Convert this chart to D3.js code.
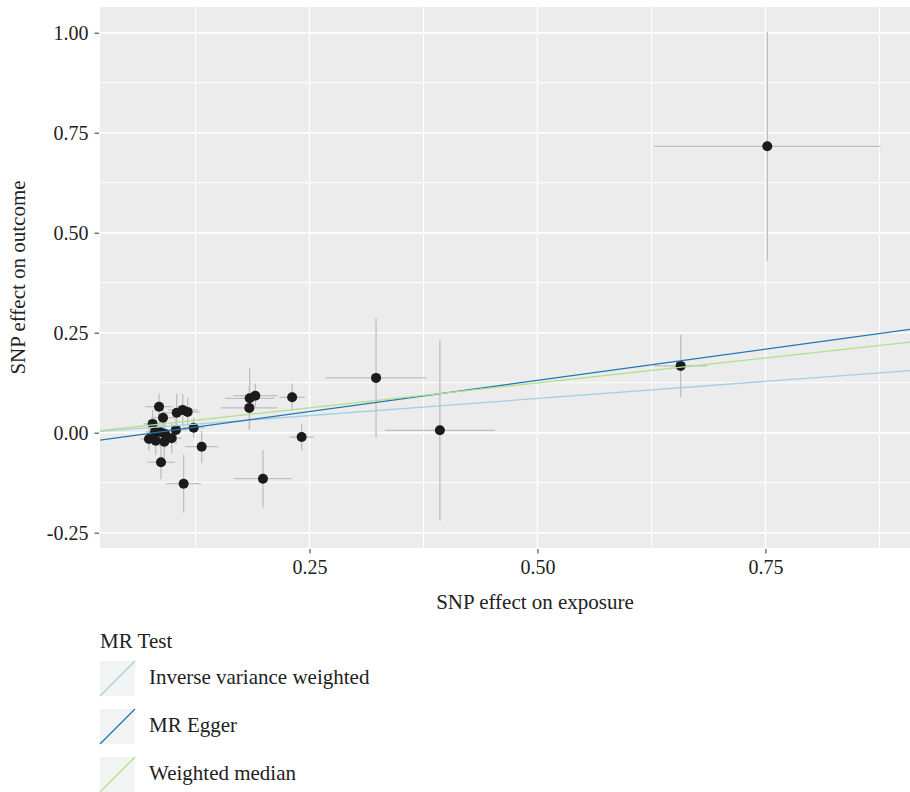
<!DOCTYPE html>
<html>
<head>
<meta charset="utf-8">
<script src="https://cdn.jsdelivr.net/npm/d3@7"></script>
<style>
  body { margin: 0; background: #fff; }
  svg { display: block; font-family: "Liberation Serif", "DejaVu Serif", serif; }
</style>
</head>
<body>
<div id="chart"></div>
<script>
// SNP effects
var betaExposure = [0.752, 0.657, 0.323, 0.393, 0.2414, 0.231, 0.1844, 0.1906, 0.184, 0.199,
                    0.1318, 0.112, 0.0872, 0.123, 0.1164, 0.111, 0.1044, 0.1036, 0.0989, 0.0908,
                    0.0814, 0.074, 0.078, 0.0894, 0.085, 0.086, 0.0916, 0.0806];
var betaOutcome  = [0.716, 0.167, 0.137, 0.006, -0.011, 0.0885, 0.086, 0.0925, 0.062, -0.115,
                    -0.035, -0.1275, -0.074, 0.0125, 0.052, 0.057, 0.05, 0.007, -0.014, -0.0225,
                    -0.02, -0.016, 0.022, 0.0375, 0.065, 0.002, -0.003, 0.002];
var seExposure   = [0.1245, 0.029, 0.055, 0.060, 0.013, 0.014, 0.027, 0.024, 0.031, 0.032,
                    0.018, 0.019, 0.015, 0.012, 0.013, 0.016, 0.015, 0.013, 0.011, 0.012,
                    0.010, 0.009, 0.010, 0.013, 0.015, 0.011, 0.013, 0.010];
var seOutcome    = [0.286, 0.078, 0.149, 0.226, 0.033, 0.034, 0.075, 0.03, 0.055, 0.072,
                    0.04, 0.0725, 0.0425, 0.025, 0.035, 0.04, 0.0475, 0.035, 0.0375, 0.04,
                    0.035, 0.03, 0.035, 0.0375, 0.0325, 0.0375, 0.035, 0.03];

// MR estimates (abline intercept / slope)
var methods    = ["Inverse variance weighted", "MR Egger", "Weighted median"];
var intercepts = [0, -0.025, 0];
var slopes     = [0.171, 0.312, 0.249];
var colors     = ["#a6cee3", "#1f78b4", "#b2df8a"];

var xTicks = [0.25, 0.50, 0.75];
var yTicks = [-0.25, 0.00, 0.25, 0.50, 0.75, 1.00];
var xMinor = [0.125, 0.375, 0.625, 0.875];
var yMinor = [-0.125, 0.125, 0.375, 0.625, 0.875];

var width = 910, height = 792;
var panel = {left: 100, top: 7, right: 970, bottom: 548};

var svg = d3.select("#chart").append("svg")
    .attr("width", width)
    .attr("height", height);

svg.append("rect").attr("width", width).attr("height", height).attr("fill", "#fff");

var x = d3.scaleLinear().domain([0.0203, 0.9743]).range([panel.left, panel.right]);
var y = d3.scaleLinear().domain([-0.2883, 1.0643]).range([panel.bottom, panel.top]);

svg.append("defs").append("clipPath").attr("id", "clip")
  .append("rect")
    .attr("x", panel.left).attr("y", panel.top)
    .attr("width", panel.right - panel.left)
    .attr("height", panel.bottom - panel.top);

// panel background
svg.append("rect")
    .attr("x", panel.left).attr("y", panel.top)
    .attr("width", panel.right - panel.left)
    .attr("height", panel.bottom - panel.top)
    .attr("fill", "#ebeceb");

var grid = svg.append("g").attr("class", "grid");
grid.selectAll(".vminor").data(xMinor).enter().append("line")
    .attr("x1", function(d) { return x(d); }).attr("x2", function(d) { return x(d); })
    .attr("y1", panel.top).attr("y2", panel.bottom)
    .attr("stroke", "#fff").attr("stroke-width", 1);
grid.selectAll(".hminor").data(yMinor).enter().append("line")
    .attr("y1", function(d) { return y(d); }).attr("y2", function(d) { return y(d); })
    .attr("x1", panel.left).attr("x2", panel.right)
    .attr("stroke", "#fff").attr("stroke-width", 1);
grid.selectAll(".vmajor").data(xTicks).enter().append("line")
    .attr("x1", function(d) { return x(d); }).attr("x2", function(d) { return x(d); })
    .attr("y1", panel.top).attr("y2", panel.bottom)
    .attr("stroke", "#fff").attr("stroke-width", 1.4);
grid.selectAll(".hmajor").data(yTicks).enter().append("line")
    .attr("y1", function(d) { return y(d); }).attr("y2", function(d) { return y(d); })
    .attr("x1", panel.left).attr("x2", panel.right)
    .attr("stroke", "#fff").attr("stroke-width", 1.4);

var idx = d3.range(betaExposure.length);
var plot = svg.append("g").attr("clip-path", "url(#clip)");

// error bars
plot.selectAll(".ebv").data(idx).enter().append("line")
    .attr("x1", function(i) { return x(betaExposure[i]); })
    .attr("x2", function(i) { return x(betaExposure[i]); })
    .attr("y1", function(i) { return y(betaOutcome[i] - seOutcome[i]); })
    .attr("y2", function(i) { return y(betaOutcome[i] + seOutcome[i]); })
    .attr("stroke", "#bebebe").attr("stroke-width", 1.3);
plot.selectAll(".ebh").data(idx).enter().append("line")
    .attr("y1", function(i) { return y(betaOutcome[i]); })
    .attr("y2", function(i) { return y(betaOutcome[i]); })
    .attr("x1", function(i) { return x(betaExposure[i] - seExposure[i]); })
    .attr("x2", function(i) { return x(betaExposure[i] + seExposure[i]); })
    .attr("stroke", "#bebebe").attr("stroke-width", 1.3);

// points
plot.selectAll("circle").data(idx).enter().append("circle")
    .attr("cx", function(i) { return x(betaExposure[i]); })
    .attr("cy", function(i) { return y(betaOutcome[i]); })
    .attr("r", 5)
    .attr("fill", "#1c1a1b");

// MR lines
var xd = x.domain();
plot.selectAll(".mrline").data(d3.range(methods.length)).enter().append("line")
    .attr("x1", x(xd[0])).attr("x2", x(xd[1]))
    .attr("y1", function(k) { return y(intercepts[k] + slopes[k] * xd[0]); })
    .attr("y2", function(k) { return y(intercepts[k] + slopes[k] * xd[1]); })
    .attr("stroke", function(k) { return colors[k]; })
    .attr("stroke-width", 1.3);

// axes (plain hyphen for negatives, like the original)
var fmt = function(d) { return d3.format(".2f")(d).replace("\u2212", "-"); };
var xAxis = d3.axisBottom(x).tickValues(xTicks).tickFormat(fmt).tickSizeOuter(0).tickSize(4.5).tickPadding(6);
var yAxis = d3.axisLeft(y).tickValues(yTicks).tickFormat(fmt).tickSizeOuter(0).tickSize(4.5).tickPadding(6);

var gx = svg.append("g").attr("transform", "translate(0," + (panel.bottom + 1) + ")").call(xAxis);
var gy = svg.append("g").attr("transform", "translate(" + (panel.left - 1) + ",0)").call(yAxis);
[gx, gy].forEach(function(g) {
  g.select(".domain").remove();
  g.selectAll(".tick line").attr("stroke", "#333");
  g.selectAll("text").attr("font-size", 20).attr("fill", "#222")
    .attr("font-family", "'Liberation Serif', serif");
});

svg.append("text")
    .attr("x", (panel.left + panel.right) / 2)
    .attr("y", 609)
    .attr("text-anchor", "middle")
    .attr("font-size", 21)
    .attr("fill", "#222")
    .text("SNP effect on exposure");

svg.append("text")
    .attr("transform", "translate(25," + ((panel.top + panel.bottom) / 2) + ") rotate(-90)")
    .attr("text-anchor", "middle")
    .attr("font-size", 21)
    .attr("fill", "#222")
    .text("SNP effect on outcome");

// legend
var legend = svg.append("g");
legend.append("text")
    .attr("x", 100).attr("y", 648)
    .attr("font-size", 21).attr("fill", "#222")
    .text("MR Test");

var keys = legend.selectAll(".key").data(d3.range(methods.length)).enter().append("g")
    .attr("transform", function(k) { return "translate(100," + (661 + k * 48) + ")"; });
keys.append("rect")
    .attr("width", 35).attr("height", 35)
    .attr("fill", "#f2f3f3");
keys.append("line")
    .attr("x1", 0).attr("y1", 35).attr("x2", 35).attr("y2", 0)
    .attr("stroke", function(k) { return colors[k]; })
    .attr("stroke-width", 1.3);
keys.append("text")
    .attr("x", 49).attr("y", 23)
    .attr("font-size", 21).attr("fill", "#222")
    .text(function(k) { return methods[k]; });
</script>
</body>
</html>
